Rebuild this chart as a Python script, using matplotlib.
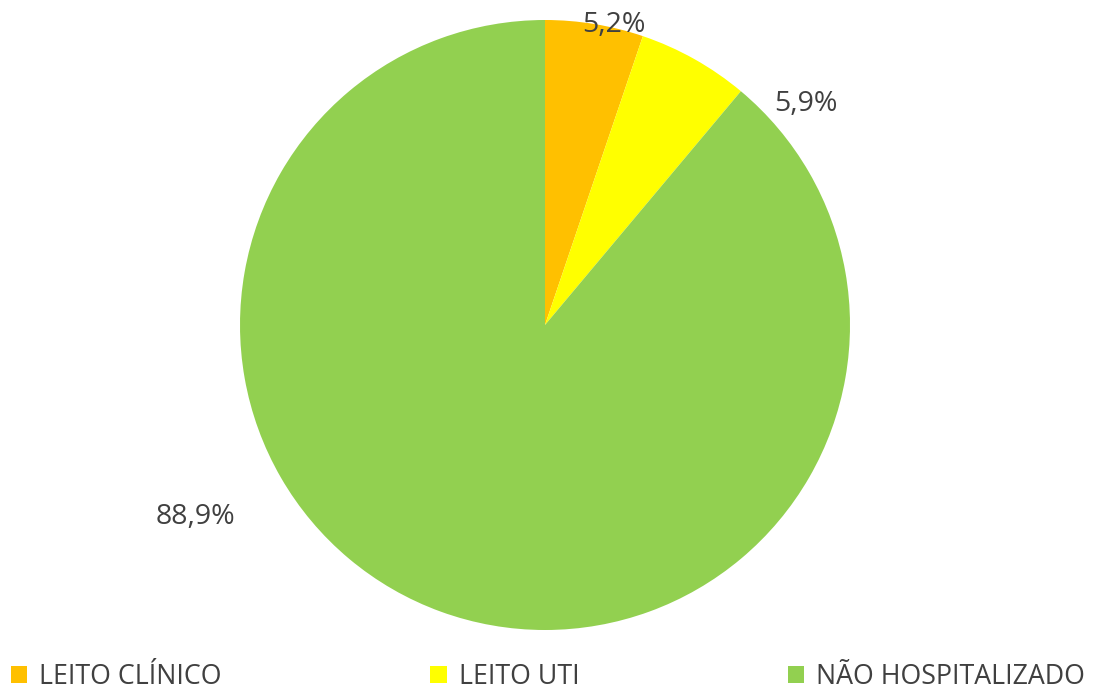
import matplotlib.pyplot as plt

# data
categories = ["LEITO CLÍNICO", "LEITO UTI", "NÃO HOSPITALIZADO"]
shares = [5.2, 5.9, 88.9]
colors = ["#FFC000", "#FFFF00", "#92D050"]

# label placement (layout only, in pie radius units)
label_pos = [(0.225, 0.985), (0.855, 0.725), (-1.145, -0.630)]

plt.rcParams["font.family"] = ["Open Sans", "DejaVu Sans"]
text_color = "#404040"

fig = plt.figure(figsize=(10.96, 6.91), dpi=100)
ax = fig.add_axes([240 / 1096, 61 / 691, 610 / 1096, 610 / 691])

wedges, _ = ax.pie(shares, colors=colors, startangle=90, counterclock=False,
                   radius=1.0, wedgeprops=dict(linewidth=0))
ax.set_xlim(-1, 1)
ax.set_ylim(-1, 1)
ax.set_aspect("equal")
ax.axis("off")

for (x, y), v in zip(label_pos, shares):
    ax.text(x, y, f"{v:.1f}%".replace(".", ","), ha="center", va="center",
            fontsize=20.5, color=text_color, clip_on=False)

leg = fig.legend(wedges, categories, loc="lower left", bbox_to_anchor=(0.0, -0.016),
                 ncol=3, frameon=False, fontsize=19.3, labelcolor=text_color,
                 handlelength=0.6, handleheight=0.6, handletextpad=0.45,
                 columnspacing=7.8, borderaxespad=0)

fig.savefig("out.png", dpi=100)
